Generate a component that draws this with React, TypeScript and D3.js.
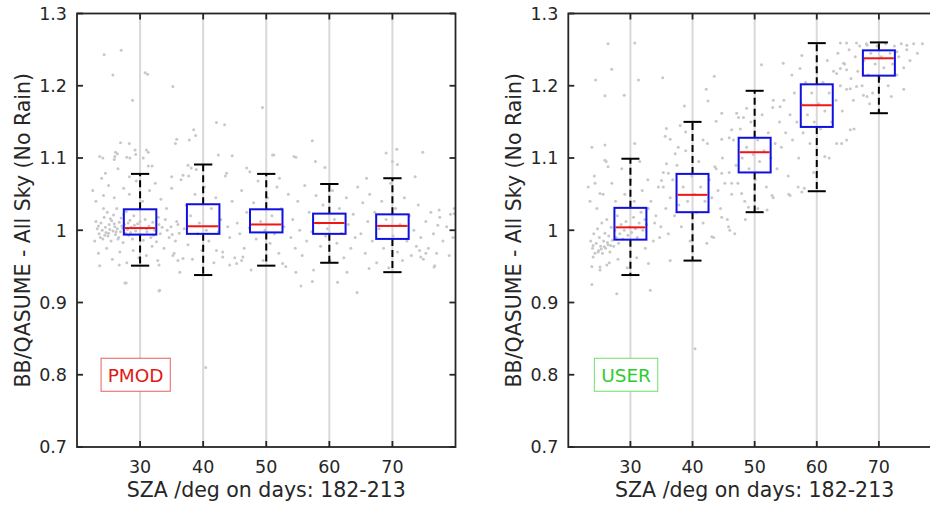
import React from "react";
import * as d3 from "d3";

// ---------- data ----------
const SZA = [30, 40, 50, 60, 70];
const xTicks = [30, 40, 50, 60, 70];
const yTicks = [0.7, 0.8, 0.9, 1.0, 1.1, 1.2, 1.3];
const yTickLabels = ["0.7", "0.8", "0.9", "1", "1.1", "1.2", "1.3"];

const pmodWhiskerLow = [0.951, 0.938, 0.951, 0.955, 0.942];
const pmodQ1 = [0.994, 0.995, 0.997, 0.995, 0.988];
const pmodMedian = [1.003, 1.0055, 1.008, 1.010, 1.006];
const pmodQ3 = [1.029, 1.036, 1.029, 1.023, 1.022];
const pmodWhiskerHigh = [1.078, 1.091, 1.078, 1.064, 1.072];

const userWhiskerLow = [0.938, 0.958, 1.025, 1.054, 1.162];
const userQ1 = [0.987, 1.025, 1.080, 1.143, 1.214];
const userMedian = [1.004, 1.049, 1.108, 1.173, 1.238];
const userQ3 = [1.031, 1.078, 1.128, 1.202, 1.249];
const userWhiskerHigh = [1.099, 1.150, 1.193, 1.259, 1.260];

const pmodPoints: [number, number][] = [
  [24.3,1.243],[27.0,1.249],[25.7,1.215],[30.8,1.218],[31.2,1.216],[35.2,1.199],[28.8,1.180],[49.4,1.170],
  [42.1,1.149],[43.4,1.146],[38.5,1.139],[38.8,1.131],[37.8,1.125],[35.8,1.126],[35.6,1.120],[26.9,1.121],
  [28.3,1.120],[26.1,1.108],[26.4,1.106],[26.0,1.102],[29.2,1.111],[29.3,1.105],[23.6,1.102],[24.1,1.100],
  [27.9,1.101],[28.4,1.100],[31.0,1.111],[31.3,1.108],[30.5,1.100],[25.9,1.098],[42.4,1.104],[44.6,1.103],
  [31.3,1.089],[31.9,1.089],[37.6,1.090],[38.1,1.086],[38.9,1.084],[24.5,1.079],[46.9,1.086],[47.4,1.081],
  [43.7,1.079],[51.0,1.104],[36.8,1.076],[37.7,1.075],[35.0,1.074],[28.3,1.074],[57.3,1.124],[51.2,1.104],
  [54.7,1.101],[57.8,1.095],[59.3,1.087],[70.7,1.112],[70.8,1.091],[70.0,1.095],[74.8,1.108],[73.6,1.074],
  [65.9,1.072],[52.1,1.072],[54.4,1.102],[69.0,1.107],[40.4,0.810],[27.8,0.927],[33.1,0.917],[55.5,0.923],
  [64.4,0.914],[23.6,0.951],[76.6,0.949],[27.6,0.927],[33.0,0.916],[36.3,0.942],[33.0,0.952],[26.7,0.952],
  [42.1,0.972],[43.1,0.963],[44.2,0.952],[45.3,0.954],[46.1,0.958],[46.3,0.963],[35.2,0.965],[36.0,0.958],
  [36.8,0.961],[57.3,0.929],[61.3,0.928],[54.7,0.942],[62.8,0.942],[76.7,0.951],[79.0,0.965],[52.6,0.954],
  [66.3,0.947],[74.5,0.963],[75.3,0.968],[74.3,0.972],[77.4,1.028],[77.2,1.007],[79.8,1.030],[79.8,1.023],
  [23.2,1.002],[23.5,0.995],[23.8,1.010],[24.0,1.000],[24.1,0.988],[24.3,1.018],[24.5,1.004],[24.6,0.997],
  [24.8,1.025],[24.9,0.992],[25.1,1.008],[25.2,1.001],[25.4,0.985],[25.5,1.013],[25.7,0.999],[25.8,1.021],
  [26.0,1.005],[26.1,0.994],[26.3,1.030],[26.4,1.002],[26.6,0.990],[26.7,1.011],[26.9,0.998],[27.0,1.017],
  [27.2,1.003],[27.3,0.983],[27.5,1.008],[27.7,0.996],[27.8,1.026],[28.0,1.001],[28.2,0.993],[28.4,1.014],
  [28.6,1.004],[28.8,0.988],[29.0,1.020],[29.3,0.999],[29.6,1.009],[29.9,0.994],[30.2,1.003],[30.5,0.986],
  [30.8,1.015],[31.1,0.998],[31.4,1.006],[31.7,0.990],[32.0,1.011],[32.3,1.000],[32.6,0.984],[32.9,1.018],
  [33.2,0.995],[33.5,1.004],[23.4,1.006],[24.4,0.993],[25.3,1.016],[26.2,0.998],[27.1,1.006],[28.1,1.010],
  [23.0,1.012],[23.7,0.990],[24.2,1.030],[25.0,0.996],[25.9,1.009],[26.5,0.988],[27.4,1.022],[28.5,0.997],
  [29.1,1.007],[30.0,1.012],[31.0,1.002],[32.1,0.993],[33.0,1.008],[34.3,1.000],[35.1,0.994],[36.0,1.008],
  [22.5,1.055],[22.8,0.985],[23.0,1.040],[23.4,0.968],[23.9,1.072],[24.2,1.048],[24.7,0.975],[25.0,1.062],
  [25.6,0.960],[25.9,1.045],[26.5,1.085],[26.8,0.970],[27.4,1.058],[27.9,0.955],[28.3,1.050],[28.9,0.972],
  [29.4,1.068],[29.8,0.962],[30.4,1.040],[31.0,0.965],[31.5,1.055],[31.9,0.978],[32.4,1.065],[32.8,0.958],
  [33.3,1.043],[33.8,0.975],[34.2,1.030],[34.6,0.990],[35.0,1.058],[35.4,0.968],[35.8,1.012],[36.2,0.996],
  [34.0,1.015],[34.9,1.005],[35.6,0.985],[36.5,1.070],
  [37.0,1.002],[37.3,1.035],[37.6,0.980],[38.0,1.020],[38.3,0.960],[38.7,1.050],[39.1,0.995],[39.4,1.010],
  [39.8,0.972],[40.2,1.060],[40.5,1.000],[40.9,0.985],[41.3,1.030],[41.7,0.955],[42.0,1.045],[42.4,0.998],
  [42.8,1.015],[43.1,0.970],[43.5,1.075],[43.9,1.005],[44.2,0.990],[44.6,1.040],[45.0,0.962],
  [45.4,1.010],[45.8,0.995],[46.1,1.055],[46.5,0.975],[46.9,1.025],[47.3,1.003],[47.6,0.945],[48.0,1.038],
  [48.4,0.988],[48.7,1.068],[49.1,1.012],[49.5,0.958],[49.8,1.000],[50.2,1.045],[50.6,0.982],[50.9,1.020],
  [51.3,0.995],[51.7,1.060],[52.0,0.968],[52.4,1.030],[52.8,1.005],[53.1,0.950],[53.5,1.050],[53.9,0.990],
  [54.2,1.015],[54.6,0.975],
  [55.0,1.040],[55.3,1.000],[55.7,0.965],[56.1,1.062],[56.4,0.985],[56.8,1.025],[57.2,0.998],[57.5,0.945],
  [57.9,1.048],[58.3,1.010],[58.6,0.978],[59.0,1.035],[59.4,0.992],[59.7,1.002],[60.1,0.958],[60.5,1.055],
  [60.8,1.015],[61.2,0.982],[61.6,1.030],[61.9,0.996],[62.3,0.962],[62.7,1.045],[63.0,1.008],[63.4,0.975],
  [63.8,1.022],[64.1,0.990],[64.5,1.060],
  [65.0,0.995],[65.3,1.038],[65.7,0.968],[66.1,1.012],[66.4,1.050],[66.8,0.985],[67.2,1.025],[67.5,0.955],
  [67.9,1.002],[68.3,1.040],[68.6,0.975],[69.0,1.015],[69.4,0.948],[69.7,1.065],[70.1,0.992],[70.5,1.030],
  [70.8,0.970],[71.2,1.008],[71.6,0.958],[71.9,1.045],[72.3,0.985],[72.7,1.020],[73.0,0.965],[73.4,1.000],
  [73.8,0.978],[74.1,1.035],[74.5,0.990],[74.9,0.960],[75.3,1.012],[75.7,0.975],[76.1,1.025],[76.5,0.995],
  [77.0,0.968],[77.5,1.018],[78.0,0.985],[78.6,1.005],[79.2,1.022],[79.6,0.990],
];

const userPoints: [number, number][] = [
  [26.4,1.258],[30.7,1.259],[27.0,1.223],[24.4,1.208],[31.3,1.208],[25.9,1.186],[29.0,1.187],[35.2,1.211],
  [43.5,1.213],[42.2,1.195],[42.5,1.179],[38.7,1.172],[44.7,1.162],[47.1,1.162],[48.7,1.169],[47.4,1.156],
  [48.2,1.156],[35.8,1.141],[35.6,1.130],[36.4,1.126],[38.0,1.145],[38.9,1.136],[43.8,1.151],[46.3,1.139],
  [45.9,1.128],[44.7,1.126],[41.7,1.125],[40.4,0.836],[23.8,0.925],[27.8,0.912],[33.2,0.917],[25.1,0.949],
  [26.2,0.952],[24.0,0.963],[32.9,0.954],[36.4,0.958],[35.0,1.069],[35.3,1.060],[36.1,1.079],[35.8,1.092],
  [37.2,1.106],[37.7,1.115],[25.9,1.097],[26.4,1.088],[24.3,1.065],[25.1,1.051],[23.8,1.115],[25.9,1.118],
  [30.7,1.120],[43.6,1.088],[44.7,1.079],[46.3,1.065],[47.9,1.051],[49.0,1.032],[44.7,1.018],[45.8,1.005],
  [46.8,0.995],[42.3,0.982],[43.1,0.991],[51.1,1.229],[54.6,1.231],[57.6,1.242],[63.8,1.259],[64.8,1.259],
  [66.4,1.259],[68.1,1.256],[74.5,1.256],[72.9,1.247],[56.0,1.215],[57.3,1.224],[53.0,1.180],[54.1,1.171],
  [65.4,1.139],[64.8,1.125],[63.2,1.120],[61.3,1.102],[63.2,1.217],[63.8,1.224],[64.3,1.231],[64.8,1.222],
  [65.4,1.196],[66.4,1.199],[67.5,1.187],[68.1,1.185],[52.8,1.048],[55.7,1.048],[57.6,1.053],
  [23.6,0.985],[23.9,0.975],[24.1,0.995],[24.3,0.968],[24.5,0.982],[24.7,1.002],[24.9,0.972],[25.0,0.990],
  [25.2,0.978],[25.4,1.010],[25.5,0.968],[25.7,0.985],[25.9,0.996],[26.0,0.975],[26.2,1.015],[26.4,0.980],
  [26.5,0.992],[26.7,0.970],[26.9,1.004],[27.1,0.986],[27.3,0.978],[27.5,1.000],[27.7,0.990],[27.9,1.020],
  [28.1,0.982],[28.3,0.995],[28.5,1.008],[28.8,0.988],[29.0,1.000],[29.3,1.012],[29.6,0.993],[29.9,1.005],
  [30.2,0.997],[30.5,1.018],[30.8,1.002],[31.1,0.990],[31.4,1.010],[31.7,1.025],[32.0,1.000],[32.3,1.015],
  [32.6,1.008],[32.9,1.030],[24.0,0.979],[24.8,0.970],[25.3,0.974],[25.8,0.977],[26.3,0.983],[26.8,0.979],
  [23.2,1.060],[23.5,1.040],[23.8,0.950],[24.2,1.075],[24.6,1.030],[25.1,0.945],[25.6,1.050],[26.1,1.095],
  [26.6,0.955],[27.0,1.065],[27.6,1.040],[28.0,0.960],[28.6,1.085],[29.1,1.050],[29.5,0.948],[30.0,1.070],
  [30.6,1.040],[31.0,0.962],[31.5,1.095],[31.9,1.055],[32.4,0.975],[32.8,1.070],[33.3,1.040],[33.7,0.985],
  [34.1,1.020],[34.5,1.060],[34.9,1.005],[35.3,1.080],[35.7,1.030],[36.1,0.995],[33.9,1.010],[34.7,0.990],
  [36.4,1.045],[36.8,1.070],[37.1,1.020],[37.5,1.090],[37.8,1.035],[38.2,1.005],[38.5,1.060],[38.9,1.110],
  [39.2,1.040],[39.6,0.985],[39.9,1.075],[40.3,1.050],[40.6,1.025],[41.0,1.095],[41.3,1.060],[41.7,1.010],
  [42.0,1.040],[42.4,1.120],[42.7,1.070],[43.1,1.045],[43.4,0.990],[43.8,1.085],[44.1,1.055],[44.5,1.030],
  [44.8,1.100],[45.2,1.065],[45.6,1.015],[45.9,1.080],
  [46.3,1.050],[46.6,1.125],[47.0,1.090],[47.3,1.065],[47.7,1.140],[48.0,1.100],[48.4,1.040],[48.7,1.115],
  [49.1,1.085],[49.4,1.150],[49.8,1.105],[50.1,1.070],[50.5,1.125],[50.8,1.095],[51.2,1.160],[51.5,1.110],
  [51.9,1.060],[52.2,1.135],[52.6,1.100],[52.9,1.170],[53.3,1.120],[53.6,1.085],[54.0,1.150],[54.3,1.115],
  [54.7,1.180],[55.0,1.135],[55.4,1.075],[55.7,1.160],
  [56.1,1.125],[56.4,1.190],[56.8,1.150],[57.1,1.100],[57.5,1.175],[57.8,1.135],[58.2,1.205],[58.5,1.160],
  [58.9,1.120],[59.2,1.190],[59.6,1.150],[59.9,1.225],[60.3,1.175],[60.6,1.140],[61.0,1.205],[61.3,1.165],
  [61.7,1.235],[62.0,1.190],[62.4,1.150],[62.7,1.220],[63.1,1.180],[63.4,1.245],[63.8,1.200],[64.1,1.165],
  [64.5,1.230],[64.8,1.195],[65.2,1.250],[65.5,1.210],
  [65.9,1.180],[66.2,1.240],[66.6,1.220],[66.9,1.255],[67.3,1.200],[67.6,1.235],[68.0,1.258],[68.3,1.215],
  [68.7,1.245],[69.0,1.190],[69.4,1.230],[69.7,1.255],[70.1,1.210],[70.4,1.240],[70.8,1.225],[71.1,1.258],
  [71.5,1.200],[71.8,1.245],[72.2,1.230],[72.5,1.255],[72.9,1.215],[73.2,1.240],[73.6,1.258],[74.0,1.225],
  [74.5,1.250],[75.0,1.235],[75.6,1.258],[76.2,1.245],[77.0,1.258],[68.5,1.175],[70.0,1.165],[72.0,1.185],
  [74.0,1.195],[46.0,1.000],[48.5,1.015],[50.5,1.030],[53.0,1.045],[55.5,1.050],[57.0,1.060],[59.5,1.080],
  [62.0,1.100],[64.0,1.120],[66.0,1.140],[52.0,1.028],[58.0,1.058],
];

const labels = ["PMOD", "USER"];
const labelColors = ["#e01818", "#2ecc2e"];
const labelBorder = ["#e86060", "#6ee06e"];
const xLabel = "SZA /deg on days: 182-213";
const yLabel = "BB/QASUME - All Sky (No Rain)";

// ---------- layout ----------
const W = 930, H = 506;
const TOP = 13.5, BOTTOM = 447;
const FONT = "'DejaVu Sans', Arial, sans-serif";
const TXT = "#262626";

const panelDefs = [
  { left: 77, right: 455.5, ylabX: 29.5, stats: [pmodWhiskerLow, pmodQ1, pmodMedian, pmodQ3, pmodWhiskerHigh], pts: pmodPoints },
  { left: 568.3, right: 941, ylabX: 521, stats: [userWhiskerLow, userQ1, userMedian, userQ3, userWhiskerHigh], pts: userPoints },
];

function Panel({ idx }: { idx: number }) {
  const p = panelDefs[idx];
  const x = d3.scaleLinear().domain([20, 80]).range([p.left, p.right]);
  const y = d3.scaleLinear().domain([0.7, 1.3]).range([BOTTOM, TOP]);
  const [wl, q1, med, q3, wh] = p.stats;
  const boxW = 5.15, capW = 2.9;
  const tick = 6;
  const lblX = x(29.3), lblY = y(0.8);
  const lblHalfW = idx === 0 ? 34.6 : 31.7;
  return (
    <g>
      {xTicks.map((t) => (
        <line key={"g" + t} x1={x(t)} x2={x(t)} y1={TOP} y2={BOTTOM} stroke="#d9d9d9" strokeWidth={2} />
      ))}
      {p.pts.map((d, i) => (
        <circle key={"p" + i} cx={x(d[0])} cy={y(d[1])} r={1.5} fill="#c8c8c8" />
      ))}
      {SZA.map((s, i) => (
        <g key={"b" + s}>
          <line x1={x(s)} x2={x(s)} y1={y(q3[i])} y2={y(wh[i])} stroke="#000" strokeWidth={2} strokeDasharray="7,4" />
          <line x1={x(s)} x2={x(s)} y1={y(q1[i])} y2={y(wl[i])} stroke="#000" strokeWidth={2} strokeDasharray="7,4" />
          <line x1={x(s - capW / 2)} x2={x(s + capW / 2)} y1={y(wh[i])} y2={y(wh[i])} stroke="#000" strokeWidth={2} />
          <line x1={x(s - capW / 2)} x2={x(s + capW / 2)} y1={y(wl[i])} y2={y(wl[i])} stroke="#000" strokeWidth={2} />
          <rect x={x(s - boxW / 2)} y={y(q3[i])} width={x(s + boxW / 2) - x(s - boxW / 2)} height={y(q1[i]) - y(q3[i])}
            fill="none" stroke="#1010e0" strokeWidth={2} />
          <line x1={x(s - boxW / 2) + 1} x2={x(s + boxW / 2) - 1} y1={y(med[i])} y2={y(med[i])} stroke="#f01515" strokeWidth={2} />
        </g>
      ))}
      <rect x={p.left} y={TOP} width={p.right - p.left} height={BOTTOM - TOP} fill="none" stroke={TXT} strokeWidth={1.8} />
      {yTicks.map((t) => (
        <g key={"yt" + t}>
          <line x1={p.left} x2={p.left + tick} y1={y(t)} y2={y(t)} stroke={TXT} strokeWidth={1.8} />
          <line x1={p.right} x2={p.right - tick} y1={y(t)} y2={y(t)} stroke={TXT} strokeWidth={1.8} />
        </g>
      ))}
      {xTicks.map((t) => (
        <g key={"xt" + t}>
          <line x1={x(t)} x2={x(t)} y1={BOTTOM} y2={BOTTOM - tick} stroke={TXT} strokeWidth={1.8} />
          <line x1={x(t)} x2={x(t)} y1={TOP} y2={TOP + tick} stroke={TXT} strokeWidth={1.8} />
        </g>
      ))}
      {yTicks.map((t, i) => (
        <text key={"yl" + t} x={p.left - 10} y={y(t) + 6.3} textAnchor="end" fontSize={17.5} fill={TXT} fontFamily={FONT}>
          {yTickLabels[i]}
        </text>
      ))}
      {xTicks.map((t) => (
        <text key={"xl" + t} x={x(t)} y={472.5} textAnchor="middle" fontSize={17.5} fill={TXT} fontFamily={FONT}>
          {t}
        </text>
      ))}
      <text x={x(50)} y={497} textAnchor="middle" fontSize={20.5} fill={TXT} fontFamily={FONT}>{xLabel}</text>
      <text transform={`translate(${p.ylabX},${(TOP + BOTTOM) / 2}) rotate(-90)`} textAnchor="middle" fontSize={20.5} fill={TXT} fontFamily={FONT}>
        {yLabel}
      </text>
      <rect x={lblX - lblHalfW} y={lblY - 16.5} width={lblHalfW * 2} height={33} fill="#fff" stroke={labelBorder[idx]} strokeWidth={1} />
      <text x={lblX} y={lblY + 6.8} textAnchor="middle" fontSize={18.5} fill={labelColors[idx]} fontFamily={FONT}>
        {labels[idx]}
      </text>
    </g>
  );
}

export default function App() {
  return (
    <svg width={W} height={H} style={{ position: "absolute", left: 0, top: 0, background: "#fff" }}>
      <rect x={0} y={0} width={W} height={H} fill="#fff" />
      <Panel idx={0} />
      <Panel idx={1} />
    </svg>
  );
}
